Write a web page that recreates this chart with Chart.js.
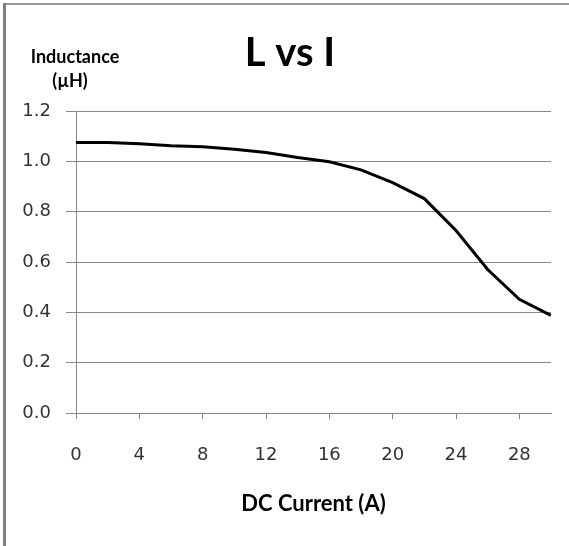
<!DOCTYPE html>
<html>
<head>
<meta charset="utf-8">
<script src="https://cdn.jsdelivr.net/npm/chart.js@4/dist/chart.umd.min.js"></script>
<style>
  html, body { margin: 0; padding: 0; background: #fff; }
  #wrap { width: 569px; height: 546px; position: relative; }
</style>
</head>
<body>
<div id="wrap"><canvas id="c" width="569" height="546"></canvas></div>
<script>
// ---- data ----
const currentA   = [0, 2, 4, 6, 8, 10, 12, 14, 16, 18, 20, 22, 24, 26, 28, 30];
const inductance = [1.075, 1.075, 1.07, 1.062, 1.058, 1.048, 1.035, 1.015, 0.998, 0.966, 0.915, 0.852, 0.725, 0.57, 0.452, 0.388];
const xTicks = [0, 4, 8, 12, 16, 20, 24, 28];
const yTicks = [0.0, 0.2, 0.4, 0.6, 0.8, 1.0, 1.2];
const chartTitle = 'L vs I';
const xTitle = 'DC Current (A)';
const yTitleLines = ['Inductance', '(µH)'];

const BOLD_FONT = 'Lato, "Liberation Sans", sans-serif';
const TICK_FONT = '"DejaVu Sans", sans-serif';

const framePlugin = {
  id: 'frame',
  beforeDraw(chart) {
    const ctx = chart.ctx;
    ctx.save();
    ctx.fillStyle = '#ffffff';
    ctx.fillRect(0, 0, chart.width, chart.height);
    ctx.fillStyle = '#9a9a9a';
    ctx.fillRect(3, 3, chart.width - 3, 2);
    ctx.fillStyle = '#808080';
    ctx.fillRect(3, 3, 3, chart.height - 3);
    ctx.restore();
  }
};

const titlesPlugin = {
  id: 'titles',
  afterDraw(chart) {
    const ctx = chart.ctx;
    ctx.save();
    ctx.fillStyle = '#000';
    ctx.textAlign = 'center';
    ctx.textBaseline = 'middle';
    ctx.font = 'bold 40px ' + BOLD_FONT;
    ctx.fillText(chartTitle, 290, 53);
    ctx.font = 'bold 18px ' + BOLD_FONT;
    ctx.fillText(yTitleLines[0], 75, 57);
    ctx.fillText(yTitleLines[1], 70, 81);
    ctx.restore();
  }
};

new Chart(document.getElementById('c'), {
  type: 'scatter',
  data: {
    datasets: [{
      data: currentA.map((x, i) => ({ x: x, y: inductance[i] })),
      showLine: true,
      borderColor: '#000',
      borderWidth: 3,
      pointRadius: 0,
      tension: 0,
      fill: false
    }]
  },
  options: {
    responsive: false,
    animation: false,
    events: [],
    layout: { padding: { left: 0, right: 18, top: 111, bottom: 0 } },
    plugins: {
      legend: { display: false },
      tooltip: { enabled: false },
      title: { display: false }
    },
    scales: {
      x: {
        type: 'linear',
        min: 0,
        max: 30,
        afterBuildTicks(scale) {
          scale.ticks = xTicks.map(v => ({ value: v }));
        },
        afterFit(scale) { scale.height = 133; },
        ticks: {
          color: '#333',
          font: { family: TICK_FONT, size: 18 },
          padding: 26,
          maxRotation: 0,
          callback: v => String(v)
        },
        grid: {
          drawOnChartArea: false,
          drawTicks: true,
          tickLength: 6,
          color: '#888'
        },
        border: { color: '#888', width: 1 },
        title: {
          display: true,
          text: xTitle,
          color: '#000',
          font: { family: BOLD_FONT, size: 22, weight: 'bold', lineHeight: 1.2 },
          padding: { top: 10, bottom: 29 }
        }
      },
      y: {
        type: 'linear',
        min: 0,
        max: 1.2,
        afterBuildTicks(scale) {
          scale.ticks = yTicks.map(v => ({ value: v }));
        },
        afterFit(scale) { scale.width = 76; },
        ticks: {
          color: '#333',
          font: { family: TICK_FONT, size: 18 },
          padding: 15,
          callback: v => Number(v).toFixed(1)
        },
        grid: {
          color: '#888',
          lineWidth: 1,
          drawTicks: true,
          tickLength: 10
        },
        border: { color: '#888', width: 1 }
      }
    }
  },
  plugins: [framePlugin, titlesPlugin]
});
</script>
</body>
</html>
